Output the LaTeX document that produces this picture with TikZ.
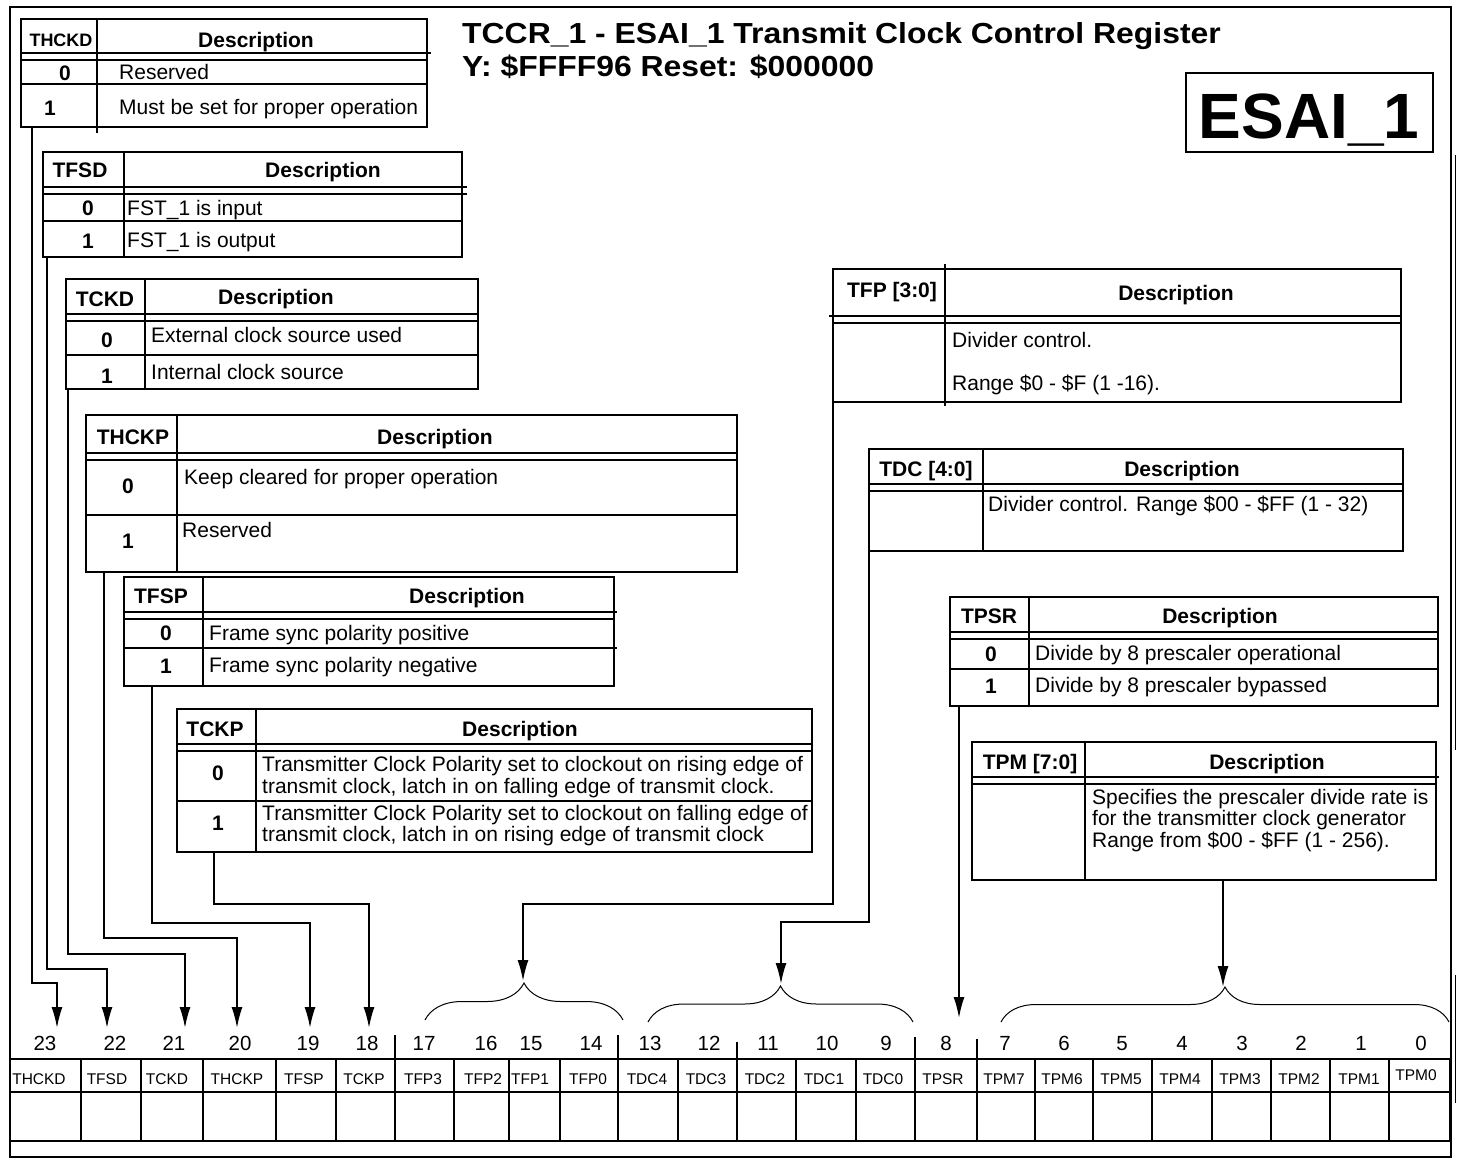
\documentclass[tikz,border=0pt]{standalone}
\usepackage{fontspec}
\setmainfont{Liberation Sans}
\usepackage{graphicx}
\usetikzlibrary{arrows.meta,decorations.pathreplacing}

\tikzset{
  tbl/.style={line width=1.6pt},
  conn/.style={line width=1.8pt, -{Latex[length=21pt,width=11pt]}},
  brc/.style={line width=1pt, decorate, decoration={brace, amplitude=#1}},
  key/.style={font=\bfseries\fontsize{21}{21}\selectfont, inner sep=0pt, anchor=base},
  dsc/.style={font=\fontsize{21}{21}\selectfont, inner sep=0pt, anchor=base west},
  bitno/.style={font=\fontsize{20.5}{21}\selectfont, inner sep=0pt, anchor=base},
  cellname/.style={font=\fontsize{15.5}{16}\selectfont, inner sep=0pt, anchor=base},
}

\begin{document}
\begin{tikzpicture}[x=1pt, y=-1pt]
    \useasboundingbox (0,0) rectangle (1458,1159);
    % frame
    \draw[line width=2.6pt] (10,7) rectangle (1451,1157);
    \draw[line width=1pt] (1455,155) -- (1455,750) (1455,975) -- (1455,1103);

    % title
    \node[anchor=base west, inner sep=0pt, font=\bfseries\fontsize{29}{29}\selectfont] (title1) at (462,43)
      {\scalebox{1.1}[1]{TCCR\_1 - ESAI\_1 Transmit Clock Control Register}};
    \node[anchor=base west, inner sep=0pt, font=\bfseries\fontsize{29}{29}\selectfont] (title2) at (462,76)
      {\scalebox{1.1}[1]{Y: \$FFFF96 Reset: \$000000}};
    \draw[line width=2.2pt] (1186,73) rectangle (1433,152);
    \node[anchor=base, inner sep=0pt, font=\bfseries\fontsize{64}{64}\selectfont] (esai) at (1309,138) {ESAI\_1};

    % bit tables: left/top/column/right/header/bottom
    \foreach \l/\t/\c/\r/\h/\b in {21/19/97/427/53/127, 43/152/124/462/187/257, 66/279/145/478/314/389,
        86/415/177/737/453/572, 124/577/203/614/612/686, 177/709/256/812/744/852,
        833/269/945/1401/316/402, 869/449/983/1403/484/551, 950/597/1029/1438/632/706, 972/742/1085/1436/777/880}
      \draw[tbl] (\l,\t) rectangle (\r,\b) (\c,\t) -- (\c,\b) (\l,\h) -- (\r,\h) (\l,\h+7) -- (\r,\h+7);
    \foreach \l/\r/\y in {21/427/84, 43/462/221, 66/478/355, 86/737/515, 124/614/648, 177/812/801, 950/1438/669}
      \draw[tbl] (\l,\y) -- (\r,\y);
    % small overshoots of the ruling
    \draw[tbl] (97,127) -- (97,133) (945,264) -- (945,269) (945,402) -- (945,406)
      (427,53) -- (431,53) (462,187) -- (467,187) (462,194) -- (467,194)
      (614,612) -- (617,612) (614,648) -- (617,648) (1436,777) -- (1439,777) (829,316) -- (833,316);

    % THCKD
    \node[key, font=\bfseries\fontsize{18}{18}\selectfont] (thckd-k) at (61,46) {THCKD};
    \node[key] (thckd-d) at (256,47) {Description};
    \node[key] (thckd-0) at (65,80) {0};
    \node[dsc] (thckd-t0) at (119,79) {Reserved};
    \node[key] (thckd-1) at (50,115) {1};
    \node[dsc] (thckd-t1) at (119,114) {Must be set for proper operation};
    % TFSD
    \node[key] (tfsd-k) at (80,177) {TFSD};
    \node[key] (tfsd-d) at (323,177) {Description};
    \node[key] (tfsd-0) at (88,215) {0};
    \node[dsc] (tfsd-t0) at (127,215) {FST\_1 is input};
    \node[key] (tfsd-1) at (88,248) {1};
    \node[dsc] (tfsd-t1) at (127,247) {FST\_1 is output};
    % TCKD
    \node[key] (tckd-k) at (105,306) {TCKD};
    \node[key] (tckd-d) at (276,304) {Description};
    \node[key] (tckd-0) at (107,347) {0};
    \node[dsc] (tckd-t0) at (151,342) {External clock source used};
    \node[key] (tckd-1) at (107,383) {1};
    \node[dsc] (tckd-t1) at (151,379) {Internal clock source};
    % THCKP
    \node[key] (thckp-k) at (133,444) {THCKP};
    \node[key] (thckp-d) at (435,444) {Description};
    \node[key] (thckp-0) at (128,493) {0};
    \node[dsc] (thckp-t0) at (184,484) {Keep cleared for proper operation};
    \node[key] (thckp-1) at (128,548) {1};
    \node[dsc] (thckp-t1) at (182,537) {Reserved};
    % TFSP
    \node[key] (tfsp-k) at (161,603) {TFSP};
    \node[key] (tfsp-d) at (467,603) {Description};
    \node[key] (tfsp-0) at (166,640) {0};
    \node[dsc] (tfsp-t0) at (209,640) {Frame sync polarity positive};
    \node[key] (tfsp-1) at (166,673) {1};
    \node[dsc] (tfsp-t1) at (209,672) {Frame sync polarity negative};
    % TCKP
    \node[key] (tckp-k) at (215,736) {TCKP};
    \node[key] (tckp-d) at (520,736) {Description};
    \node[key] (tckp-0) at (218,780) {0};
    \node[dsc] (tckp-t0a) at (262,771) {Transmitter Clock Polarity set to clockout on rising edge of};
    \node[dsc] (tckp-t0b) at (262,793) {transmit clock, latch in on falling edge of transmit clock.};
    \node[key] (tckp-1) at (218,830) {1};
    \node[dsc] (tckp-t1a) at (262,820) {Transmitter Clock Polarity set to clockout on falling edge of};
    \node[dsc] (tckp-t1b) at (262,841) {transmit clock, latch in on rising edge of transmit clock};
    % TFP
    \node[key] (tfp-k) at (892,297) {TFP [3:0]};
    \node[key] (tfp-d) at (1176,300) {Description};
    \node[dsc] (tfp-t0) at (952,347) {Divider control.};
    \node[dsc] (tfp-t1) at (952,390) {Range \$0 - \$F (1 -16).};
    % TDC
    \node[key] (tdc-k) at (926,476) {TDC [4:0]};
    \node[key] (tdc-d) at (1182,476) {Description};
    \node[dsc] (tdc-t0) at (988,511) {Divider control. Range \$00 - \$FF (1 - 32)};
    % TPSR
    \node[key] (tpsr-k) at (989,623) {TPSR};
    \node[key] (tpsr-d) at (1220,623) {Description};
    \node[key] (tpsr-0) at (991,661) {0};
    \node[dsc] (tpsr-t0) at (1035,660) {Divide by 8 prescaler operational};
    \node[key] (tpsr-1) at (991,693) {1};
    \node[dsc] (tpsr-t1) at (1035,692) {Divide by 8 prescaler bypassed};
    % TPM
    \node[key] (tpm-k) at (1030,769) {TPM [7:0]};
    \node[key] (tpm-d) at (1267,769) {Description};
    \node[dsc] (tpm-t0) at (1092,804) {Specifies the prescaler divide rate is};
    \node[dsc] (tpm-t1) at (1092,825) {for the transmitter clock generator};
    \node[dsc] (tpm-t2) at (1092,847) {Range from \$00 - \$FF (1 - 256).};

    % register
    \draw[tbl] (10,1059) -- (1450,1059) (10,1092) -- (1450,1092) (10,1141) -- (1450,1141);
    \foreach \x in {81,141,203,276,336,395,454,509,560,618,678,737,796,856,915,977,1035,1093,1152,1212,1271,1330,1389,1450}
      \draw[tbl] (\x,1059) -- (\x,1141);
    \foreach \x/\y in {395/1035,618/1035,737/1042,915/1037,977/1039}
      \draw[tbl] (\x,\y) -- (\x,1059);
    \foreach \b/\x in {23/45,22/115,21/174,20/240,19/308,18/367,17/424,16/486,15/531,14/591,13/650,12/709,
        11/768,10/827,9/886,8/946,7/1005,6/1064,5/1122,4/1182,3/1242,2/1301,1/1361,0/1421}
      \node[bitno] (bit\b) at (\x,1050) {\b};
    \foreach \n/\x in {THCKD/39,TFSD/107,TCKD/167,THCKP/237,TFSP/304,TCKP/364,TFP3/423,TFP2/483,TFP1/530,
        TFP0/588,TDC4/647,TDC3/706,TDC2/765,TDC1/824,TDC0/883,TPSR/943,TPM7/1004,TPM6/1062,TPM5/1121,
        TPM4/1180,TPM3/1240,TPM2/1299,TPM1/1359}
      \node[cellname] (f-\n) at (\x,1084) {\n};
    \node[cellname] (f-TPM0) at (1416,1080) {TPM0};

    % braces over the multi-bit fields
    \draw[brc=37pt] (425,1020) -- (623,1020);
    \draw[brc=36pt] (648,1022) -- (913,1022);
    \draw[brc=35pt] (1001,1022) -- (1449,1022);

    % connectors
    \coordinate (o-thckd) at (32,127);   \coordinate (a23) at (57,1028);
    \coordinate (o-tfsd) at (47,257);    \coordinate (a22) at (107,1028);
    \coordinate (o-tckd) at (68,389);    \coordinate (a21) at (185,1028);
    \coordinate (o-thckp) at (104,572);  \coordinate (a20) at (237,1028);
    \coordinate (o-tfsp) at (152,686);   \coordinate (a19) at (310,1028);
    \coordinate (o-tckp) at (214,852);   \coordinate (a18) at (369,1028);
    \coordinate (o-tfp) at (833,402);    \coordinate (a-tfp) at (523,981);
    \coordinate (o-tdc) at (869,551);    \coordinate (a-tdc) at (781,984);
    \coordinate (o-tpsr) at (959,706);   \coordinate (a8) at (959,1018);
    \coordinate (o-tpm) at (1223,880);   \coordinate (a-tpm) at (1223,987);
    \draw[conn] (o-thckd) -- (o-thckd |- 0,983) -| (a23);
    \draw[conn] (o-tfsd) -- (o-tfsd |- 0,969) -| (a22);
    \draw[conn] (o-tckd) -- (o-tckd |- 0,954) -| (a21);
    \draw[conn] (o-thckp) -- (o-thckp |- 0,938) -| (a20);
    \draw[conn] (o-tfsp) -- (o-tfsp |- 0,923) -| (a19);
    \draw[conn] (o-tckp) -- (o-tckp |- 0,904) -| (a18);
    \draw[conn] (o-tfp) -- (o-tfp |- 0,904) -| (a-tfp);
    \draw[conn] (o-tdc) -- (o-tdc |- 0,922) -| (a-tdc);
    \draw[conn] (o-tpsr) -- (a8);
    \draw[conn] (o-tpm) -- (a-tpm);
  \end{tikzpicture}
\end{document}
